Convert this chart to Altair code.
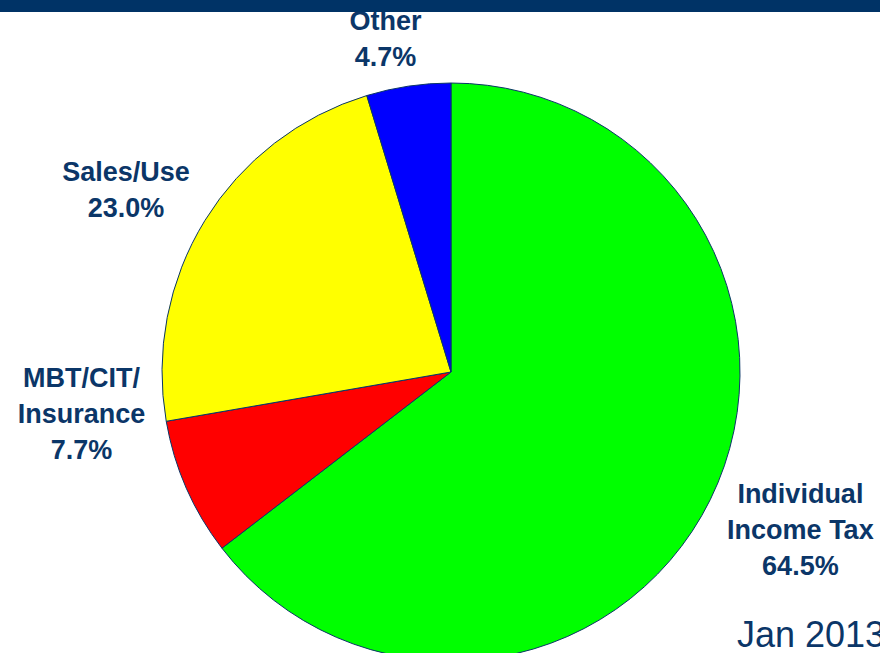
import altair as alt
import pandas as pd

# ---- data ----
categories = ["Individual Income Tax", "MBT/CIT/Insurance", "Sales/Use", "Other"]
label_names = ["Individual\nIncome Tax", "MBT/CIT/\nInsurance", "Sales/Use", "Other"]
shares = [64.5, 7.7, 23.0, 4.7]
colors = ["#00FF00", "#FF0000", "#FFFF00", "#0000FF"]
footnote = ["Jan 2013"]

# label layout (radius from centre and angular nudge, degrees)
label_radius = [384, 372, 372, 338]
label_nudge = [-1.7, 17.0, -2.5, -2.7]

CX, CY, R = 451, 372, 289
NAVY = "#0B3668"
LH = 36

df = pd.DataFrame({
    "category": categories,
    "name": label_names,
    "share": shares,
    "order": list(range(len(categories))),
    "lr": label_radius,
    "ln": label_nudge,
})

base = alt.Chart(df)

pie = base.mark_arc(outerRadius=R, stroke=NAVY, strokeWidth=1).encode(
    theta=alt.Theta("share:Q", stack=True),
    order=alt.Order("order:Q"),
    color=alt.Color("category:N", scale=alt.Scale(domain=categories, range=colors), legend=None),
    x=alt.value(CX),
    y=alt.value(CY),
)

labels = base.transform_window(
    cum="sum(share)", sort=[alt.SortField("order")]
).transform_joinaggregate(
    total="sum(share)"
).transform_calculate(
    mid="(datum.cum - datum.share/2) / datum.total * 360 + datum.ln",
    txt="datum.name + '\\n' + format(datum.share, '.1f') + '%'",
).transform_calculate(
    nl="length(split(datum.txt, '\\n'))",
    lx=f"{CX} + datum.lr * sin(datum.mid * PI / 180)",
).transform_calculate(
    ly=f"{CY} - datum.lr * cos(datum.mid * PI / 180) - (datum.nl - 1) * {LH} / 2",
).mark_text(
    font="Liberation Sans", fontSize=27, fontWeight="bold", color=NAVY,
    lineBreak="\n", lineHeight=LH, align="center", baseline="middle",
).encode(
    x=alt.X("lx:Q", scale=None),
    y=alt.Y("ly:Q", scale=None),
    text="txt:N",
)

topbar = alt.Chart(alt.Data(values=[{"a": 1}])).mark_rect(color="#003366").encode(
    x=alt.value(0), x2=alt.value(880), y=alt.value(0), y2=alt.value(12)
)

foot = alt.Chart(pd.DataFrame({"t": footnote})).mark_text(
    font="Liberation Sans", fontSize=36, color=NAVY, align="left", baseline="alphabetic"
).encode(x=alt.value(737), y=alt.value(647), text="t:N")

chart = alt.layer(pie, labels, topbar, foot).properties(
    width=880, height=653, autosize=alt.AutoSizeParams(type="none"), padding=0,
    background="white",
).configure_view(stroke=None)

chart.save("out.html", embed_options={"renderer": "svg", "actions": False})
